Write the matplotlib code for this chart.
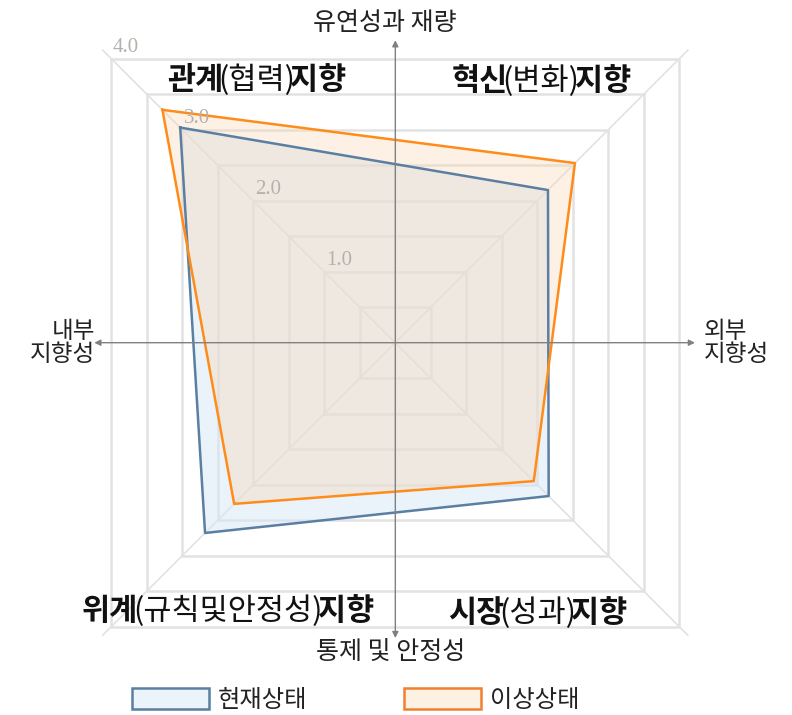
import matplotlib
matplotlib.use("Agg")
import matplotlib.pyplot as plt
from matplotlib.patches import Patch
from matplotlib.transforms import offset_copy

plt.rcParams['font.family'] = ['Noto Sans CJK KR', 'DejaVu Sans']

# corner order: top-left, top-right, bottom-right, bottom-left
series_names = ["현재상태", "이상상태"]
current = [3.03, 2.15, 2.16, 2.68]
ideal = [3.28, 2.53, 1.95, 2.27]
grid_levels = [0.5, 1.0, 1.5, 2.0, 2.5, 3.0, 3.5, 4.0]
tick_levels = [1.0, 2.0, 3.0, 4.0]
tick_labels = ["1.0", "2.0", "3.0", "4.0"]

quadrants = [
    [("관계", "bold"), ("(협력)", "normal"), ("지향", "bold")],
    [("혁신", "bold"), ("(변화)", "normal"), ("지향", "bold")],
    [("시장", "bold"), ("(성과)", "normal"), ("지향", "bold")],
    [("위계", "bold"), ("(규칙및안정성)", "normal"), ("지향", "bold")],
]
axis_top = "유연성과 재량"
axis_bottom = "통제 및 안정성"
axis_left = "내부\n지향성"
axis_right = "외부\n지향성"

BLUE_LINE = "#5b7fa3"
BLUE_FILL = "#d6e6f6"
ORANGE_LINE = "#ff8c1a"
ORANGE_FILL = "#f9d7b2"
GRID = "#e2e2e2"

SIGNS = [(-1, 1), (1, 1), (1, -1), (-1, -1)]


def corners(vals):
    return [sx * v for (sx, sy), v in zip(SIGNS, vals)], [sy * v for (sx, sy), v in zip(SIGNS, vals)]


def mixed_label(ax, x, y, parts, size, tighten=5):
    # bold / regular pieces placed side by side, whole string centred on x
    fig = ax.figure
    renderer = fig.canvas.get_renderer()
    texts = [ax.text(x, y, s, fontsize=size, fontweight=w, ha="left", va="center",
                     color="#111111", zorder=6) for s, w in parts]
    widths = [t.get_window_extent(renderer).width - tighten for t in texts]
    off = -sum(widths) / 2
    for t, w in zip(texts, widths):
        t.set_transform(offset_copy(ax.transData, fig=fig, x=off, y=0, units="dots"))
        off += w


fig = plt.figure(figsize=(7.92, 7.15), dpi=100)
ax = fig.add_axes([0, 0, 1, 1])
ax.set_xlim(-5.568, 5.587)
ax.set_ylim(-5.244, 4.827)
ax.axis("off")

# square grid + diagonals
for lv in grid_levels:
    ax.plot([-lv, lv, lv, -lv, -lv], [lv, lv, -lv, -lv, lv], color=GRID, lw=1.8, zorder=1)
for sx, sy in SIGNS:
    ax.plot([0, sx * 4.12], [0, sy * 4.12], color=GRID, lw=1.2, zorder=1)

# series
xs, ys = corners(current)
ax.fill(xs, ys, color=BLUE_FILL, alpha=0.5, lw=0, zorder=2)
xo, yo = corners(ideal)
ax.fill(xo, yo, color=ORANGE_FILL, alpha=0.35, lw=0, zorder=3)
ax.plot(xs + xs[:1], ys + ys[:1], color=BLUE_LINE, lw=1.8, zorder=4)
ax.plot(xo + xo[:1], yo + yo[:1], color=ORANGE_LINE, lw=1.8, zorder=4)

# axes arrows
arrow = dict(arrowstyle="<|-|>", color="#808080", lw=1.0, mutation_scale=9, shrinkA=0, shrinkB=0)
ax.annotate("", xy=(0, 4.26), xytext=(0, -4.16), arrowprops=arrow, zorder=5)
ax.annotate("", xy=(4.22, 0), xytext=(-4.24, 0), arrowprops=arrow, zorder=5)

# level labels
for lv, lab in zip(tick_levels, tick_labels):
    ax.text(-lv + 0.02, lv + 0.02, lab, fontsize=15, family="Liberation Serif",
            color="#b4b0ab", ha="left", va="bottom", zorder=5)

# axis titles
ax.text(-0.15, 4.50, axis_top, fontsize=18, ha="center", va="center", color="#222222")
ax.text(-0.06, -4.37, axis_bottom, fontsize=18, ha="center", va="center", color="#222222")
ax.text(-4.23, 0.0, axis_left, fontsize=17, ha="right", va="center", multialignment="right",
        linespacing=1.0, color="#222222")
ax.text(4.34, 0.0, axis_right, fontsize=17, ha="left", va="center", multialignment="left",
        linespacing=1.0, color="#222222")

# quadrant titles
quad_pos = [(-1.99, 3.70), (2.02, 3.68), (1.97, -3.81), (-2.39, -3.78)]
for (qx, qy), parts in zip(quad_pos, quadrants):
    mixed_label(ax, qx, qy, parts, 22)

handles = [Patch(facecolor="#ebf3fb", edgecolor=BLUE_LINE, lw=1.8),
           Patch(facecolor="#fdf1e4", edgecolor="#f08030", lw=1.8)]
fig.legend(handles, series_names, loc="center left", bbox_to_anchor=(131.7 / 792, 1 - 700 / 715),
           ncol=2, frameon=False, fontsize=17.5, handlelength=3.17, handleheight=0.95,
           handletextpad=0.35, columnspacing=4.0, borderpad=0, borderaxespad=0,
           labelcolor="#222222")

fig.savefig("out.png", dpi=100)
plt.close(fig)
